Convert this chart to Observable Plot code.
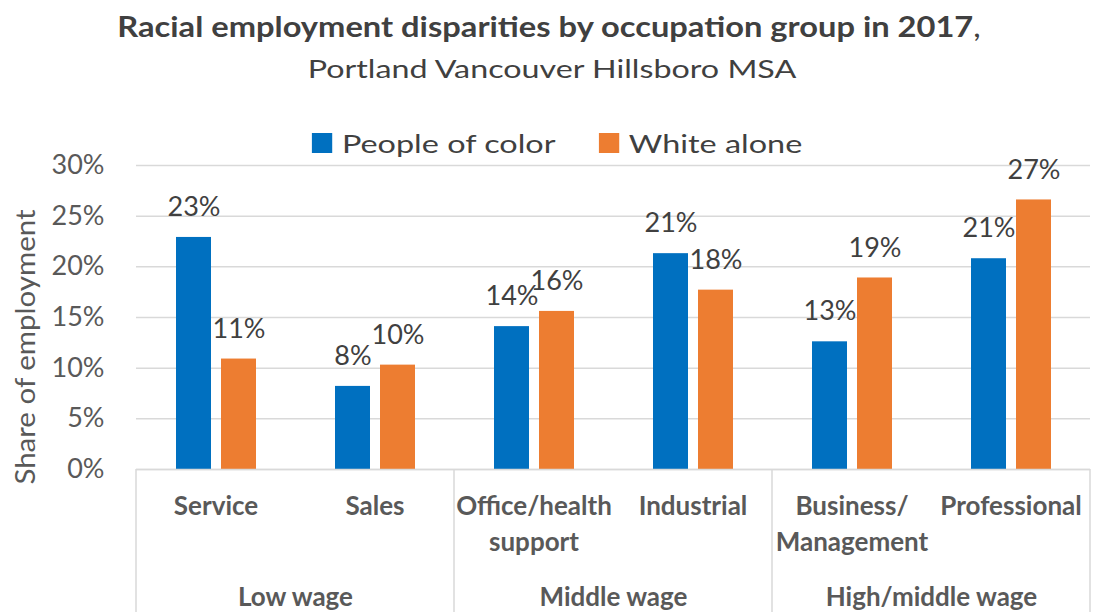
<!DOCTYPE html>
<html><head><meta charset="utf-8">
<script src="https://cdn.jsdelivr.net/npm/d3@7"></script>
<script src="https://cdn.jsdelivr.net/npm/@observablehq/plot@0.6"></script>
<style>
body{margin:0;background:#fff;font-family:Lato,sans-serif;}
#wrap{width:1096px;height:612px;position:relative;overflow:hidden;background:#fff}
.title{position:absolute;top:9px;left:1px;width:1096px;text-align:center;font-size:28px;line-height:34px;font-weight:bold;color:#404040;transform:scaleX(1.166);transform-origin:548px 0;white-space:nowrap}
.title span{font-weight:normal}
.subtitle{position:absolute;top:51px;left:4px;width:1096px;text-align:center;font-size:25.5px;line-height:34px;color:#404040;transform:scaleX(1.265);transform-origin:548px 0;white-space:nowrap}
.legend{position:absolute;top:126px;left:9px;width:1096px;display:flex;justify-content:center;gap:34px;font-size:25.5px;line-height:34px;color:#404040;transform:scaleX(1.27);transform-origin:548px 0;white-space:nowrap}
.legend .item{display:flex;align-items:center;gap:8px}
.legend .sw{width:15.75px;height:20px;display:inline-block}
.ylab{position:absolute;left:25px;top:347px;transform:translate(-50%,-50%) rotate(-90deg) scaleX(1.134);white-space:nowrap;font-size:26px;line-height:30px;color:#595959}
#chart{position:absolute;top:150px;left:0}
</style></head>
<body><div id="wrap">
<div class="title" id="title"></div>
<div class="subtitle" id="subtitle"></div>
<div class="legend" id="legend"></div>
<div class="ylab" id="ylab"></div>
<div id="chart"></div>
</div>
<script>
const titleText = "Racial employment disparities by occupation group in 2017";
const subtitleText = "Portland Vancouver Hillsboro MSA";
const yLabel = "Share of employment";
const categories = ["Service", "Sales", "Office/health support", "Industrial", "Business/ Management", "Professional"];
const categoryLabels = ["Service", "Sales", "Office/health\nsupport", "Industrial", "Business/\nManagement", "Professional"];
const groups = ["Low wage", "Middle wage", "High/middle wage"];
const groupFirst = ["Service", "Office/health support", "Business/ Management"];
const series = ["People of color", "White alone"];
const peopleOfColor = [22.9, 8.2, 14.1, 21.3, 12.6, 20.8];
const whiteAlone = [10.9, 10.3, 15.6, 17.7, 18.9, 26.6];
const yTicks = [0, 5, 10, 15, 20, 25, 30];
const colors = ["#0070C0", "#ED7D31"];

document.getElementById("title").innerHTML = titleText + "<span>,</span>";
document.getElementById("subtitle").textContent = subtitleText;
document.getElementById("ylab").textContent = yLabel;
const leg = document.getElementById("legend");
series.forEach((s, i) => {
  const it = document.createElement("div"); it.className = "item";
  const sw = document.createElement("span"); sw.className = "sw"; sw.style.background = colors[i];
  const t = document.createElement("span"); t.textContent = s;
  it.appendChild(sw); it.appendChild(t); leg.appendChild(it);
});

const rows = [];
categories.forEach((c, i) => {
  rows.push({category: c, series: series[0], value: peopleOfColor[i]});
  rows.push({category: c, series: series[1], value: whiteAlone[i]});
});

const plot = Plot.plot({
  width: 1096, height: 462,
  marginTop: 15, marginBottom: 143, marginLeft: 133, marginRight: 4,
  style: {fontFamily: "Lato, sans-serif", background: "transparent", overflow: "visible"},
  fx: {domain: categories, padding: 0, axis: null},
  x: {domain: series, paddingInner: 0.23, paddingOuter: 0.88, axis: null},
  y: {domain: [0, 30], axis: null},
  color: {domain: series, range: colors},
  marks: [
    Plot.gridY(yTicks, {stroke: "#d9d9d9", strokeOpacity: 1, strokeWidth: 1.5}),
    Plot.axisY(yTicks, {tickSize: 0, tickPadding: 32, tickFormat: d => d + "%", fontSize: 27, fill: "#595959", label: null, ariaLabel: "ytick"}),
    Plot.barY(rows, {fx: "category", x: "series", y: "value", fill: "series"}),
    Plot.ruleY([0], {stroke: "#d9d9d9", strokeWidth: 1.5}),
    Plot.text(rows, {fx: "category", x: "series", y: "value", text: d => Math.round(d.value) + "%", dy: -30, lineAnchor: "middle", fontSize: 27, fill: "#404040", ariaLabel: "value labels"}),
    Plot.text(categories, {fx: d => d, text: (d, i) => categoryLabels[i], frameAnchor: "bottom", lineAnchor: "top", dy: 21, lineHeight: 1.35, fontWeight: "bold", fontSize: 26, fill: "#595959"}),
    Plot.text(groups, {fx: (d, i) => groupFirst[i], text: d => d, frameAnchor: "bottom-right", textAnchor: "middle", lineAnchor: "middle", dy: 128, fontWeight: "bold", fontSize: 26, fill: "#595959"})
  ]
});
document.getElementById("chart").appendChild(plot);

const svg = d3.select(plot.tagName.toLowerCase() === "svg" ? plot : plot.querySelector("svg"));
svg.selectAll('g[aria-label="ytick"] text, g[aria-label="value labels"] text').style("letter-spacing", "1px");

// group separators placed through the fx scale
const fx = plot.scale("fx"), y = plot.scale("y");
const base = y.apply(0);
const xs = groupFirst.map(g => fx.apply(g)).concat([fx.apply(categories[categories.length - 1]) + fx.bandwidth]);
svg.append("g").selectAll("line").data(xs).join("line")
  .attr("x1", d => d).attr("x2", d => d).attr("y1", base).attr("y2", 462)
  .attr("stroke", "#d9d9d9").attr("stroke-width", 1.5);
</script>
</body></html>
